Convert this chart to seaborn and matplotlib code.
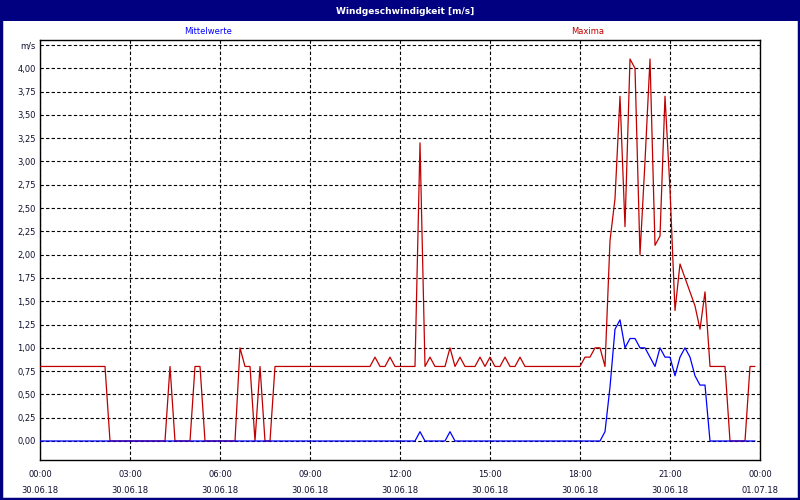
import matplotlib
matplotlib.use('Agg')
import matplotlib.pyplot as plt
import matplotlib.dates as mdates
from matplotlib.patches import Rectangle
import numpy as np
import pandas as pd
import seaborn as sns

# 10-minute values for 30.06.18 00:00 .. 23:50, one row = 2 hours
maxima = [
    0.8, 0.8, 0.8, 0.8, 0.8, 0.8, 0.8, 0.8, 0.8, 0.8, 0.8, 0.8,
    0.8, 0.8, 0.0, 0.0, 0.0, 0.0, 0.0, 0.0, 0.0, 0.0, 0.0, 0.0,
    0.0, 0.0, 0.8, 0.0, 0.0, 0.0, 0.0, 0.8, 0.8, 0.0, 0.0, 0.0,
    0.0, 0.0, 0.0, 0.0, 1.0, 0.8, 0.8, 0.0, 0.8, 0.0, 0.0, 0.8,
    0.8, 0.8, 0.8, 0.8, 0.8, 0.8, 0.8, 0.8, 0.8, 0.8, 0.8, 0.8,
    0.8, 0.8, 0.8, 0.8, 0.8, 0.8, 0.8, 0.9, 0.8, 0.8, 0.9, 0.8,
    0.8, 0.8, 0.8, 0.8, 3.2, 0.8, 0.9, 0.8, 0.8, 0.8, 1.0, 0.8,
    0.9, 0.8, 0.8, 0.8, 0.9, 0.8, 0.9, 0.8, 0.8, 0.9, 0.8, 0.8,
    0.9, 0.8, 0.8, 0.8, 0.8, 0.8, 0.8, 0.8, 0.8, 0.8, 0.8, 0.8,
    0.8, 0.9, 0.9, 1.0, 1.0, 0.8, 2.15, 2.6, 3.7, 2.3, 4.1, 4.0,
    2.0, 3.0, 4.1, 2.1, 2.2, 3.7, 2.7, 1.4, 1.9, 1.75, 1.6, 1.45,
    1.2, 1.6, 0.8, 0.8, 0.8, 0.8, 0.0, 0.0, 0.0, 0.0, 0.8, 0.8,
]
mittelwerte = [
    0.0, 0.0, 0.0, 0.0, 0.0, 0.0, 0.0, 0.0, 0.0, 0.0, 0.0, 0.0,
    0.0, 0.0, 0.0, 0.0, 0.0, 0.0, 0.0, 0.0, 0.0, 0.0, 0.0, 0.0,
    0.0, 0.0, 0.0, 0.0, 0.0, 0.0, 0.0, 0.0, 0.0, 0.0, 0.0, 0.0,
    0.0, 0.0, 0.0, 0.0, 0.0, 0.0, 0.0, 0.0, 0.0, 0.0, 0.0, 0.0,
    0.0, 0.0, 0.0, 0.0, 0.0, 0.0, 0.0, 0.0, 0.0, 0.0, 0.0, 0.0,
    0.0, 0.0, 0.0, 0.0, 0.0, 0.0, 0.0, 0.0, 0.0, 0.0, 0.0, 0.0,
    0.0, 0.0, 0.0, 0.0, 0.1, 0.0, 0.0, 0.0, 0.0, 0.0, 0.1, 0.0,
    0.0, 0.0, 0.0, 0.0, 0.0, 0.0, 0.0, 0.0, 0.0, 0.0, 0.0, 0.0,
    0.0, 0.0, 0.0, 0.0, 0.0, 0.0, 0.0, 0.0, 0.0, 0.0, 0.0, 0.0,
    0.0, 0.0, 0.0, 0.0, 0.0, 0.1, 0.58, 1.2, 1.3, 1.0, 1.1, 1.1,
    1.0, 1.0, 0.9, 0.8, 1.0, 0.9, 0.9, 0.7, 0.9, 1.0, 0.9, 0.7,
    0.6, 0.6, 0.0, 0.0, 0.0, 0.0, 0.0, 0.0, 0.0, 0.0, 0.0, 0.0,
]
start = '2018-06-30 00:00'
yticks = np.arange(0, 4.26, 0.25)
ytick_labels = [f'{v:.2f}'.replace('.', ',') for v in yticks[:-1]] + ['m/s']

navy = '#000080'
red = '#c00000'
blue = '#0000ff'

times = pd.date_range(start, periods=len(maxima), freq='10min')
df = pd.DataFrame({'zeit': times, 'Maxima': maxima, 'Mittelwerte': mittelwerte})
df = df.melt(id_vars='zeit', var_name='reihe', value_name='wert')

sns.set_style('white')
plt.rcParams['font.family'] = ['DejaVu Sans']
plt.rcParams['font.size'] = 6

fig = plt.figure(figsize=(8, 5), dpi=100)
ax = fig.add_axes([0.05, 0.08, 0.90, 0.84])

# blue on top of red, like the reference
sns.lineplot(data=df, x='zeit', y='wert', hue='reihe',
             hue_order=['Maxima', 'Mittelwerte'],
             palette={'Maxima': red, 'Mittelwerte': blue},
             linewidth=0.9, legend=False, ax=ax, zorder=3)

t0 = pd.Timestamp(start)
ax.set_xlim(t0, t0 + pd.Timedelta(hours=24))
ax.set_ylim(-0.204, 4.304)

ax.set_yticks(yticks)
ax.set_yticklabels(ytick_labels)
ax.xaxis.set_major_locator(mdates.HourLocator(byhour=range(0, 24, 3)))
ax.xaxis.set_major_formatter(mdates.DateFormatter('%H:%M\n%d.%m.%y'))
minor = [t0 + pd.Timedelta(minutes=90 + 180 * k) for k in range(8)]
ax.set_xticks(minor, minor=True)
ax.set_xlabel('')
ax.set_ylabel('')

ax.tick_params(axis='y', length=0, pad=3, labelsize=6, colors='#101030')
ax.tick_params(axis='x', which='major', length=0, pad=7, labelsize=6, colors='#101030')
ax.tick_params(axis='x', which='minor', length=3, width=0.8, direction='out', color='black')
for lab in ax.get_xticklabels():
    lab.set_linespacing(2.0)

ax.grid(True, which='major', color='black', linestyle=(0, (3, 2)), linewidth=0.8)
for s in ax.spines.values():
    s.set_color('black')
    s.set_linewidth(1.0)

# title bar and window frame
fig.patches.append(Rectangle((0, 1 - 21 / 500), 1, 21 / 500, transform=fig.transFigure,
                             facecolor=navy, edgecolor='none', zorder=0))
fig.patches.append(Rectangle((0.001, 0.002), 0.998, 0.996, transform=fig.transFigure,
                             facecolor='none', edgecolor=navy, linewidth=2.5, zorder=5))
fig.text(0.506, 1 - 11 / 500, 'Windgeschwindigkeit [m/s]', color='white',
         fontweight='bold', fontsize=6.5, ha='center', va='center')
fig.text(208 / 800, 1 - 31 / 500, 'Mittelwerte', color=blue, fontsize=6, ha='center', va='center')
fig.text(588 / 800, 1 - 31 / 500, 'Maxima', color=red, fontsize=6, ha='center', va='center')

fig.savefig('out.png', dpi=100)
